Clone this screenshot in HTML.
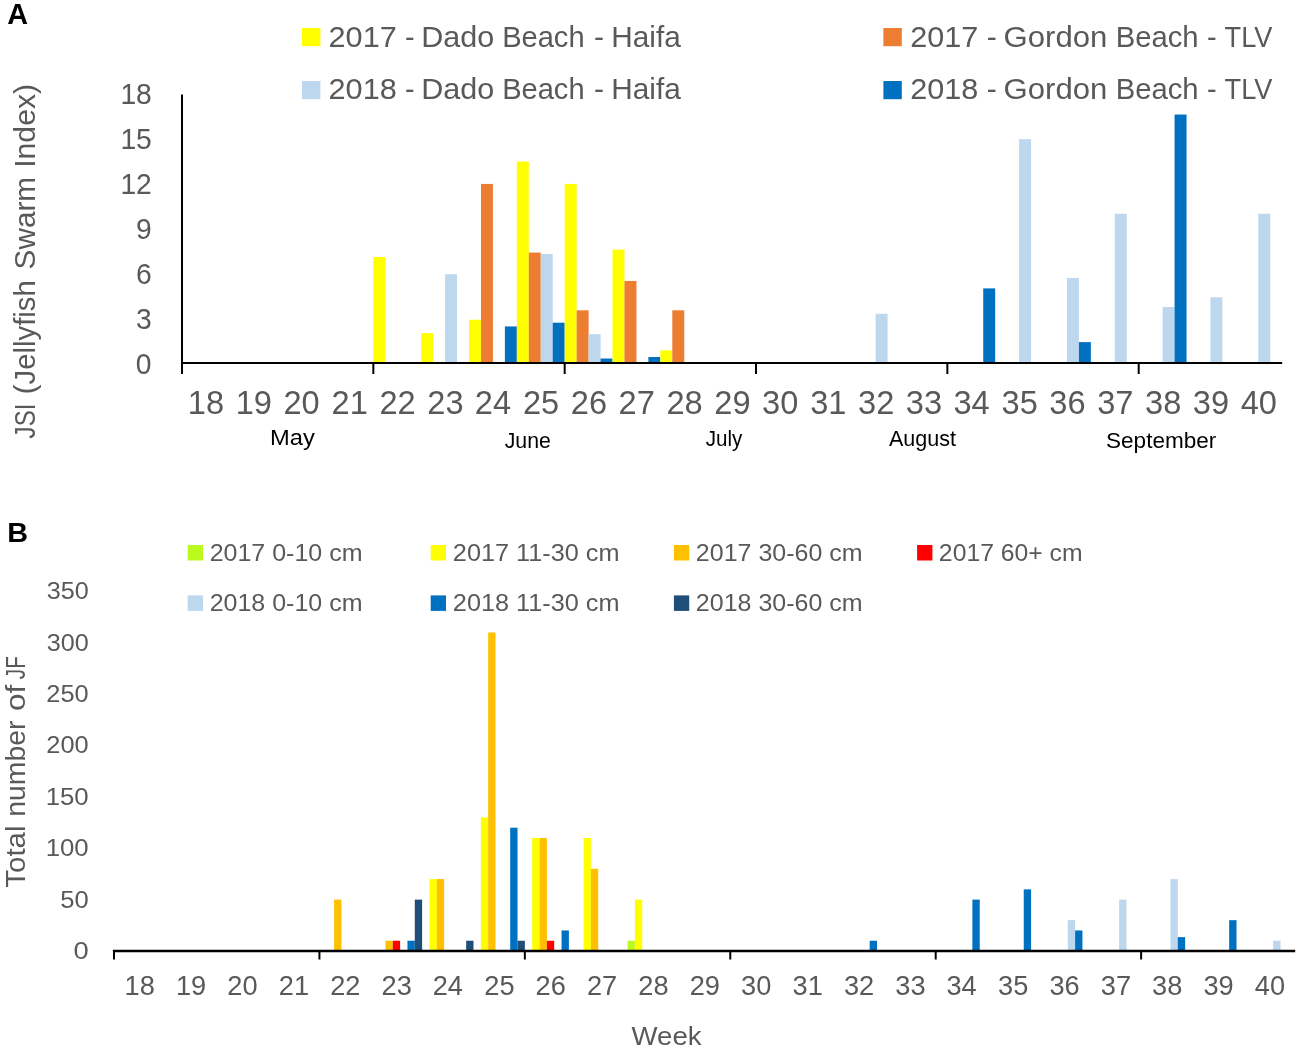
<!DOCTYPE html>
<html lang="en"><head><meta charset="utf-8"><title>Jellyfish Swarm Index charts</title>
<style>
html,body{margin:0;padding:0;background:#fff;}
svg{display:block;font-family:"Liberation Sans",Arial,sans-serif;}
</style></head>
<body>
<svg width="1299" height="1049" viewBox="0 0 1299 1049">
<rect width="1299" height="1049" fill="#fff"/>
<text transform="translate(7.15,24.40) scale(1.0070,1)" font-size="28.6" fill="#000" font-weight="bold">A</text>
<rect x="302.00" y="28.00" width="18.40" height="18.20" fill="#FFFF00"/>
<rect x="302.00" y="81.00" width="18.40" height="18.20" fill="#BDD7EE"/>
<rect x="883.40" y="28.00" width="18.40" height="18.20" fill="#ED7D31"/>
<rect x="883.40" y="81.00" width="18.40" height="18.20" fill="#0070C0"/>
<g font-size="29.2" fill="#595959">
<text transform="translate(328.56,46.60) scale(1.0512,1)">2017</text>
<text transform="translate(405.11,46.60) scale(0.9799,1)">-</text>
<text transform="translate(421.21,46.60) scale(1.0461,1)">Dado</text>
<text transform="translate(502.13,46.60) scale(0.9965,1)">Beach</text>
<text transform="translate(594.06,46.60) scale(1.0314,1)">-</text>
<text transform="translate(611.27,46.60) scale(1.0201,1)">Haifa</text>
</g>
<g font-size="29.2" fill="#595959">
<text transform="translate(910.17,46.60) scale(1.0480,1)">2017</text>
<text transform="translate(986.66,46.60) scale(1.0314,1)">-</text>
<text transform="translate(1003.54,46.60) scale(1.0658,1)">Gordon</text>
<text transform="translate(1115.72,46.60) scale(1.0016,1)">Beach</text>
<text transform="translate(1207.09,46.60) scale(0.9927,1)">-</text>
<text transform="translate(1224.57,46.60) scale(0.9320,1)">TLV</text>
</g>
<g font-size="29.2" fill="#595959">
<text transform="translate(328.56,99.40) scale(1.0512,1)">2018</text>
<text transform="translate(405.11,99.40) scale(0.9799,1)">-</text>
<text transform="translate(421.21,99.40) scale(1.0461,1)">Dado</text>
<text transform="translate(502.13,99.40) scale(0.9965,1)">Beach</text>
<text transform="translate(594.06,99.40) scale(1.0314,1)">-</text>
<text transform="translate(611.27,99.40) scale(1.0201,1)">Haifa</text>
</g>
<g font-size="29.2" fill="#595959">
<text transform="translate(910.17,99.40) scale(1.0480,1)">2018</text>
<text transform="translate(986.66,99.40) scale(1.0314,1)">-</text>
<text transform="translate(1003.54,99.40) scale(1.0658,1)">Gordon</text>
<text transform="translate(1115.72,99.40) scale(1.0016,1)">Beach</text>
<text transform="translate(1207.09,99.40) scale(0.9927,1)">-</text>
<text transform="translate(1224.57,99.40) scale(0.9320,1)">TLV</text>
</g>
<g font-size="29.5" fill="#595959">
<text transform="translate(34.50,438.38) rotate(-90) scale(0.8153,1)">JSI</text>
<text transform="translate(34.50,394.17) rotate(-90) scale(0.9937,1)">(Jellyfish</text>
<text transform="translate(34.50,269.43) rotate(-90) scale(1.0086,1)">Swarm</text>
<text transform="translate(34.50,167.86) rotate(-90) scale(1.0249,1)">Index)</text>
</g>
<rect x="373.34" y="257.05" width="11.96" height="105.95" fill="#FFFF00"/>
<rect x="421.17" y="333.16" width="11.96" height="29.84" fill="#FFFF00"/>
<rect x="445.09" y="274.21" width="11.96" height="88.79" fill="#BDD7EE"/>
<rect x="469.01" y="319.73" width="11.96" height="43.27" fill="#FFFF00"/>
<rect x="480.97" y="183.93" width="11.96" height="179.07" fill="#ED7D31"/>
<rect x="504.88" y="326.44" width="11.96" height="36.56" fill="#0070C0"/>
<rect x="516.84" y="161.55" width="11.96" height="201.45" fill="#FFFF00"/>
<rect x="528.80" y="252.58" width="11.96" height="110.42" fill="#ED7D31"/>
<rect x="540.76" y="254.07" width="11.96" height="108.93" fill="#BDD7EE"/>
<rect x="552.72" y="322.71" width="11.96" height="40.29" fill="#0070C0"/>
<rect x="564.68" y="183.93" width="11.96" height="179.07" fill="#FFFF00"/>
<rect x="576.64" y="310.32" width="11.96" height="52.68" fill="#ED7D31"/>
<rect x="588.60" y="334.20" width="11.96" height="28.80" fill="#BDD7EE"/>
<rect x="600.55" y="358.52" width="11.96" height="4.48" fill="#0070C0"/>
<rect x="612.51" y="249.59" width="11.96" height="113.41" fill="#FFFF00"/>
<rect x="624.47" y="280.93" width="11.96" height="82.07" fill="#ED7D31"/>
<rect x="648.39" y="357.03" width="11.96" height="5.97" fill="#0070C0"/>
<rect x="660.35" y="350.32" width="11.96" height="12.68" fill="#FFFF00"/>
<rect x="672.31" y="310.32" width="11.96" height="52.68" fill="#ED7D31"/>
<rect x="875.60" y="313.76" width="11.96" height="49.24" fill="#BDD7EE"/>
<rect x="983.23" y="288.39" width="11.96" height="74.61" fill="#0070C0"/>
<rect x="1019.11" y="139.17" width="11.96" height="223.83" fill="#BDD7EE"/>
<rect x="1066.94" y="277.94" width="11.96" height="85.06" fill="#BDD7EE"/>
<rect x="1078.90" y="342.11" width="11.96" height="20.89" fill="#0070C0"/>
<rect x="1114.78" y="213.78" width="11.96" height="149.22" fill="#BDD7EE"/>
<rect x="1162.61" y="307.04" width="11.96" height="55.96" fill="#BDD7EE"/>
<rect x="1174.57" y="114.54" width="11.96" height="248.46" fill="#0070C0"/>
<rect x="1210.45" y="297.34" width="11.96" height="65.66" fill="#BDD7EE"/>
<rect x="1258.28" y="213.78" width="11.96" height="149.22" fill="#BDD7EE"/>
<path d="M182 94.4 V374" stroke="#000" stroke-width="2" fill="none"/>
<path d="M181 363 H1282.2" stroke="#000" stroke-width="2" fill="none"/>
<path d="M373.34 363 V374" stroke="#000" stroke-width="2" fill="none"/>
<path d="M564.68 363 V374" stroke="#000" stroke-width="2" fill="none"/>
<path d="M756.02 363 V374" stroke="#000" stroke-width="2" fill="none"/>
<path d="M947.36 363 V374" stroke="#000" stroke-width="2" fill="none"/>
<path d="M1138.70 363 V374" stroke="#000" stroke-width="2" fill="none"/>
<text transform="translate(135.68,373.50) scale(0.9750,1)" font-size="29" fill="#595959">0</text>
<text transform="translate(136.12,328.56) scale(0.9750,1)" font-size="29" fill="#595959">3</text>
<text transform="translate(136.12,283.62) scale(0.9750,1)" font-size="29" fill="#595959">6</text>
<text transform="translate(136.12,238.68) scale(0.9750,1)" font-size="29" fill="#595959">9</text>
<text transform="translate(120.40,193.74) scale(0.9750,1)" font-size="29" fill="#595959">12</text>
<text transform="translate(120.40,148.80) scale(0.9750,1)" font-size="29" fill="#595959">15</text>
<text transform="translate(120.40,103.86) scale(0.9750,1)" font-size="29" fill="#595959">18</text>
<text transform="translate(187.83,414.40) scale(1.0000,1)" font-size="32.6" fill="#595959">18</text>
<text transform="translate(235.66,414.40) scale(1.0000,1)" font-size="32.6" fill="#595959">19</text>
<text transform="translate(283.50,414.40) scale(1.0000,1)" font-size="32.6" fill="#595959">20</text>
<text transform="translate(331.59,414.40) scale(1.0000,1)" font-size="32.6" fill="#595959">21</text>
<text transform="translate(379.42,414.40) scale(1.0000,1)" font-size="32.6" fill="#595959">22</text>
<text transform="translate(427.26,414.40) scale(1.0000,1)" font-size="32.6" fill="#595959">23</text>
<text transform="translate(474.84,414.40) scale(1.0000,1)" font-size="32.6" fill="#595959">24</text>
<text transform="translate(522.93,414.40) scale(1.0000,1)" font-size="32.6" fill="#595959">25</text>
<text transform="translate(570.76,414.40) scale(1.0000,1)" font-size="32.6" fill="#595959">26</text>
<text transform="translate(618.60,414.40) scale(1.0000,1)" font-size="32.6" fill="#595959">27</text>
<text transform="translate(666.43,414.40) scale(1.0000,1)" font-size="32.6" fill="#595959">28</text>
<text transform="translate(714.27,414.40) scale(1.0000,1)" font-size="32.6" fill="#595959">29</text>
<text transform="translate(762.10,414.40) scale(1.0000,1)" font-size="32.6" fill="#595959">30</text>
<text transform="translate(810.19,414.40) scale(1.0000,1)" font-size="32.6" fill="#595959">31</text>
<text transform="translate(858.03,414.40) scale(1.0000,1)" font-size="32.6" fill="#595959">32</text>
<text transform="translate(905.86,414.40) scale(1.0000,1)" font-size="32.6" fill="#595959">33</text>
<text transform="translate(953.44,414.40) scale(1.0000,1)" font-size="32.6" fill="#595959">34</text>
<text transform="translate(1001.53,414.40) scale(1.0000,1)" font-size="32.6" fill="#595959">35</text>
<text transform="translate(1049.36,414.40) scale(1.0000,1)" font-size="32.6" fill="#595959">36</text>
<text transform="translate(1097.20,414.40) scale(1.0000,1)" font-size="32.6" fill="#595959">37</text>
<text transform="translate(1145.03,414.40) scale(1.0000,1)" font-size="32.6" fill="#595959">38</text>
<text transform="translate(1192.87,414.40) scale(1.0000,1)" font-size="32.6" fill="#595959">39</text>
<text transform="translate(1240.70,414.40) scale(1.0000,1)" font-size="32.6" fill="#595959">40</text>
<text transform="translate(270.12,445.00) scale(1.1035,1)" font-size="21.5" fill="#000">May</text>
<text transform="translate(504.70,448.00) scale(0.9898,1)" font-size="21.5" fill="#000">June</text>
<text transform="translate(705.71,446.00) scale(0.9583,1)" font-size="21.5" fill="#000">July</text>
<text transform="translate(889.00,446.40) scale(1.0021,1)" font-size="21.5" fill="#000">August</text>
<text transform="translate(1106.06,448.00) scale(1.0480,1)" font-size="21.5" fill="#000">September</text>
<text transform="translate(7.20,542.40) scale(1.0141,1)" font-size="28.4" fill="#000" font-weight="bold">B</text>
<rect x="187.70" y="545.00" width="15.30" height="15.50" fill="#BBFA1E"/>
<text transform="translate(209.66,561.00) scale(1.0336,1)" font-size="24.2" fill="#595959">2017 0-10 cm</text>
<rect x="430.70" y="545.00" width="15.30" height="15.50" fill="#FFFF00"/>
<text transform="translate(452.85,561.00) scale(1.0447,1)" font-size="24.2" fill="#595959">2017 11-30 cm</text>
<rect x="673.90" y="545.00" width="15.30" height="15.50" fill="#FFC000"/>
<text transform="translate(695.86,561.00) scale(1.0329,1)" font-size="24.2" fill="#595959">2017 30-60 cm</text>
<rect x="917.10" y="545.00" width="15.30" height="15.50" fill="#FF0000"/>
<text transform="translate(938.87,561.00) scale(1.0223,1)" font-size="24.2" fill="#595959">2017 60+ cm</text>
<rect x="187.70" y="595.40" width="15.30" height="15.50" fill="#BDD7EE"/>
<text transform="translate(209.66,611.40) scale(1.0336,1)" font-size="24.2" fill="#595959">2018 0-10 cm</text>
<rect x="430.70" y="595.40" width="15.30" height="15.50" fill="#0070C0"/>
<text transform="translate(452.85,611.40) scale(1.0447,1)" font-size="24.2" fill="#595959">2018 11-30 cm</text>
<rect x="673.90" y="595.40" width="15.30" height="15.50" fill="#1F4E79"/>
<text transform="translate(695.86,611.40) scale(1.0329,1)" font-size="24.2" fill="#595959">2018 30-60 cm</text>
<g font-size="27" fill="#595959">
<text transform="translate(24.80,887.66) rotate(-90) scale(1.0888,1)">Total</text>
<text transform="translate(24.80,816.67) rotate(-90) scale(1.0487,1)">number</text>
<text transform="translate(24.80,710.98) rotate(-90) scale(1.1670,1)">of</text>
<text transform="translate(24.80,679.22) rotate(-90) scale(0.7669,1)">JF</text>
</g>
<rect x="334.10" y="899.62" width="7.34" height="51.38" fill="#FFC000"/>
<rect x="385.46" y="940.73" width="7.34" height="10.27" fill="#FFC000"/>
<rect x="392.79" y="940.73" width="7.34" height="10.27" fill="#FF0000"/>
<rect x="407.47" y="940.73" width="7.34" height="10.27" fill="#0070C0"/>
<rect x="414.80" y="899.62" width="7.34" height="51.38" fill="#1F4E79"/>
<rect x="429.48" y="879.08" width="7.34" height="71.92" fill="#FFFF00"/>
<rect x="436.81" y="879.08" width="7.34" height="71.92" fill="#FFC000"/>
<rect x="466.16" y="940.73" width="7.34" height="10.27" fill="#1F4E79"/>
<rect x="480.83" y="817.42" width="7.34" height="133.58" fill="#FFFF00"/>
<rect x="488.17" y="632.47" width="7.34" height="318.53" fill="#FFC000"/>
<rect x="510.18" y="827.70" width="7.34" height="123.30" fill="#0070C0"/>
<rect x="517.52" y="940.73" width="7.34" height="10.27" fill="#1F4E79"/>
<rect x="532.19" y="837.98" width="7.34" height="113.02" fill="#FFFF00"/>
<rect x="539.53" y="837.98" width="7.34" height="113.02" fill="#FFC000"/>
<rect x="546.86" y="940.73" width="7.34" height="10.27" fill="#FF0000"/>
<rect x="561.54" y="930.45" width="7.34" height="20.55" fill="#0070C0"/>
<rect x="583.55" y="837.98" width="7.34" height="113.02" fill="#FFFF00"/>
<rect x="590.88" y="868.80" width="7.34" height="82.20" fill="#FFC000"/>
<rect x="627.57" y="940.73" width="7.34" height="10.27" fill="#BBFA1E"/>
<rect x="634.90" y="899.62" width="7.34" height="51.38" fill="#FFFF00"/>
<rect x="869.67" y="940.73" width="7.34" height="10.27" fill="#0070C0"/>
<rect x="972.39" y="899.62" width="7.34" height="51.38" fill="#0070C0"/>
<rect x="1023.74" y="889.35" width="7.34" height="61.65" fill="#0070C0"/>
<rect x="1067.76" y="920.17" width="7.34" height="30.83" fill="#BDD7EE"/>
<rect x="1075.10" y="930.45" width="7.34" height="20.55" fill="#0070C0"/>
<rect x="1119.12" y="899.62" width="7.34" height="51.38" fill="#BDD7EE"/>
<rect x="1170.48" y="879.08" width="7.34" height="71.92" fill="#BDD7EE"/>
<rect x="1177.81" y="937.13" width="7.34" height="13.87" fill="#0070C0"/>
<rect x="1229.17" y="920.17" width="7.34" height="30.83" fill="#0070C0"/>
<rect x="1273.19" y="940.73" width="7.34" height="10.27" fill="#BDD7EE"/>
<path d="M112.9 951.0 H1295.2" stroke="#000" stroke-width="2.5" fill="none"/>
<path d="M114.00 950.5 V959.5" stroke="#000" stroke-width="2" fill="none"/>
<path d="M319.43 950.5 V959.5" stroke="#000" stroke-width="2" fill="none"/>
<path d="M524.85 950.5 V959.5" stroke="#000" stroke-width="2" fill="none"/>
<path d="M730.28 950.5 V959.5" stroke="#000" stroke-width="2" fill="none"/>
<path d="M935.70 950.5 V959.5" stroke="#000" stroke-width="2" fill="none"/>
<path d="M1141.13 950.5 V959.5" stroke="#000" stroke-width="2" fill="none"/>
<text transform="translate(73.58,958.90) scale(1.1379,1)" font-size="24" fill="#595959">0</text>
<text transform="translate(60.24,907.50) scale(1.0662,1)" font-size="24" fill="#595959">50</text>
<text transform="translate(45.66,856.10) scale(1.0750,1)" font-size="24" fill="#595959">100</text>
<text transform="translate(45.66,804.70) scale(1.0750,1)" font-size="24" fill="#595959">150</text>
<text transform="translate(46.33,753.30) scale(1.0580,1)" font-size="24" fill="#595959">200</text>
<text transform="translate(46.33,701.90) scale(1.0580,1)" font-size="24" fill="#595959">250</text>
<text transform="translate(46.66,650.50) scale(1.0497,1)" font-size="24" fill="#595959">300</text>
<text transform="translate(46.66,599.10) scale(1.0497,1)" font-size="24" fill="#595959">350</text>
<text transform="translate(124.54,994.70) scale(0.9720,1)" font-size="28" fill="#595959">18</text>
<text transform="translate(175.90,994.70) scale(0.9720,1)" font-size="28" fill="#595959">19</text>
<text transform="translate(227.26,994.70) scale(0.9720,1)" font-size="28" fill="#595959">20</text>
<text transform="translate(278.83,994.70) scale(0.9720,1)" font-size="28" fill="#595959">21</text>
<text transform="translate(330.18,994.70) scale(0.9720,1)" font-size="28" fill="#595959">22</text>
<text transform="translate(381.54,994.70) scale(0.9720,1)" font-size="28" fill="#595959">23</text>
<text transform="translate(432.68,994.70) scale(0.9720,1)" font-size="28" fill="#595959">24</text>
<text transform="translate(484.25,994.70) scale(0.9720,1)" font-size="28" fill="#595959">25</text>
<text transform="translate(535.61,994.70) scale(0.9720,1)" font-size="28" fill="#595959">26</text>
<text transform="translate(586.96,994.70) scale(0.9720,1)" font-size="28" fill="#595959">27</text>
<text transform="translate(638.32,994.70) scale(0.9720,1)" font-size="28" fill="#595959">28</text>
<text transform="translate(689.68,994.70) scale(0.9720,1)" font-size="28" fill="#595959">29</text>
<text transform="translate(741.03,994.70) scale(0.9720,1)" font-size="28" fill="#595959">30</text>
<text transform="translate(792.60,994.70) scale(0.9720,1)" font-size="28" fill="#595959">31</text>
<text transform="translate(843.96,994.70) scale(0.9720,1)" font-size="28" fill="#595959">32</text>
<text transform="translate(895.32,994.70) scale(0.9720,1)" font-size="28" fill="#595959">33</text>
<text transform="translate(946.46,994.70) scale(0.9720,1)" font-size="28" fill="#595959">34</text>
<text transform="translate(998.03,994.70) scale(0.9720,1)" font-size="28" fill="#595959">35</text>
<text transform="translate(1049.39,994.70) scale(0.9720,1)" font-size="28" fill="#595959">36</text>
<text transform="translate(1100.74,994.70) scale(0.9720,1)" font-size="28" fill="#595959">37</text>
<text transform="translate(1152.10,994.70) scale(0.9720,1)" font-size="28" fill="#595959">38</text>
<text transform="translate(1203.46,994.70) scale(0.9720,1)" font-size="28" fill="#595959">39</text>
<text transform="translate(1254.81,994.70) scale(0.9720,1)" font-size="28" fill="#595959">40</text>
<text transform="translate(631.60,1045.00) scale(1.0603,1)" font-size="26" fill="#595959">Week</text>
</svg>
</body></html>
